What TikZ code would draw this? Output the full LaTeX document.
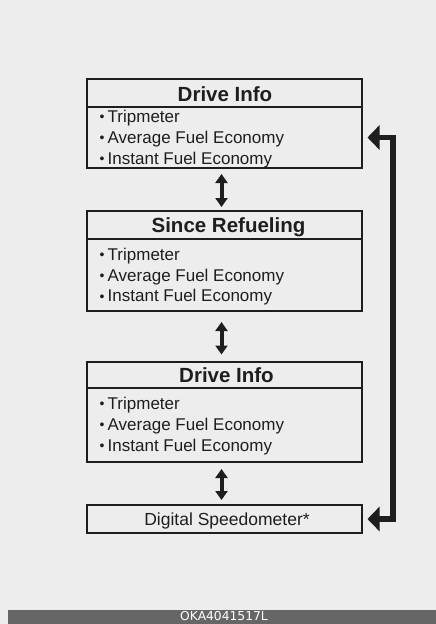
\documentclass[tikz,border=0pt]{standalone}
\usepackage{fontspec}
\setmainfont{Liberation Sans}
\newfontfamily\codefont{DejaVu Sans}
\usetikzlibrary{arrows.meta,calc}
\definecolor{bg}{HTML}{EDEDED}
\definecolor{ink}{HTML}{1E1E1E}
\definecolor{barc}{HTML}{666666}
\newcommand{\itembul}{{\fontsize{14}{14}\selectfont\raisebox{0.6pt}{•}}\hspace{3.3pt}}
\begin{document}
\begin{tikzpicture}[x=1pt,y=-1pt,
  frame/.style={draw=ink, line width=2pt, minimum width=275pt, inner sep=0pt, outer sep=0pt, anchor=north west},
  ttl/.style={anchor=base, inner sep=0pt, text=ink, font=\fontsize{20.5}{24}\selectfont\bfseries},
  item/.style={anchor=base west, inner sep=0pt, text=ink, font=\fontsize{17}{20}\selectfont},
  dbl/.style={draw=ink, line width=4pt, {Triangle[length=9pt,width=12pt]}-{Triangle[length=9pt,width=12pt]}},
  loopar/.style={draw=ink, line width=5.5pt, line join=miter, {Triangle[length=12pt,width=24pt]}-{Triangle[length=12pt,width=24pt]}}
]
\fill[bg] (0,0) rectangle (436,624);
\useasboundingbox (0,0) rectangle (436,624);

% Box 1
\node[frame, minimum height=28pt] (t1) at (87,79) {};
\node[frame, minimum height=61pt] (b1) at (87,107) {};
\node[ttl] (t1txt) at (225,101) {Drive Info};
\node[item] (i11) at (99.3,122.3) {\itembul Tripmeter};
\node[item] (i12) at (99.3,143.3) {\itembul Average Fuel Economy};
\node[item] (i13) at (99.3,164.3) {\itembul Instant Fuel Economy};

% Box 2
\node[frame, minimum height=28pt] (t2) at (87,211) {};
\node[frame, minimum height=72pt] (b2) at (87,239) {};
\node[ttl] (t2txt) at (228.5,232) {Since Refueling};
\node[item] (i21) at (99.3,260) {\itembul Tripmeter};
\node[item] (i22) at (99.3,281) {\itembul Average Fuel Economy};
\node[item] (i23) at (99.3,301.7) {\itembul Instant Fuel Economy};

% Box 3
\node[frame, minimum height=26pt] (t3) at (87,362) {};
\node[frame, minimum height=74pt] (b3) at (87,388) {};
\node[ttl] (t3txt) at (226.5,382.3) {Drive Info};
\node[item] (i31) at (99.3,409.3) {\itembul Tripmeter};
\node[item] (i32) at (99.3,430) {\itembul Average Fuel Economy};
\node[item] (i33) at (99.3,451) {\itembul Instant Fuel Economy};

% Box 4
\node[frame, minimum height=28pt] (b4) at (87,505) {};
\node[anchor=base, inner sep=0pt, text=ink, font=\fontsize{17.5}{20}\selectfont] (b4txt) at (227,525.5) {Digital Speedometer*};

% Double arrows
\draw[dbl, shorten <=6pt, shorten >=4pt] ([xshift=-3pt]b1.south) -- ([xshift=-3pt]t2.north);
\draw[dbl, shorten <=11pt, shorten >=7.5pt] ([xshift=-3pt]b2.south) -- ([xshift=-3pt]t3.north);
\draw[dbl, shorten <=7pt, shorten >=5pt] ([xshift=-3pt]b3.south) -- ([xshift=-3pt]b4.north);

% Loop arrow
\coordinate (loopc) at ($(b1.east)+(31,0)$);
\draw[loopar, shorten <=5.5pt, shorten >=5.5pt] (b1.east) -- (loopc) |- (b4.east);

% Bottom bar
\fill[barc] (8,610) rectangle (436,624);
\node[anchor=base, inner sep=0pt, text=white, font=\codefont\fontsize{12.3}{14}\selectfont] (code) at (224,620.7) {OKA4041517L};
\end{tikzpicture}
\end{document}
